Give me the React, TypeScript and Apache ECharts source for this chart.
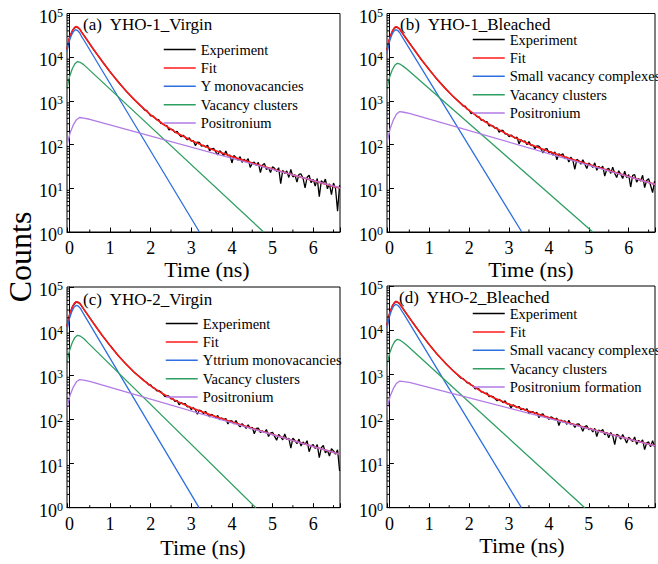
import React, { useEffect, useRef } from 'react';
import * as echarts from 'echarts';

const FONT = 'Liberation Serif';
const C_EXP = '#000000';
const C_FIT = '#ff1a1a';
const C_BLUE = '#2d6fe0';
const C_GREEN = '#2e9f60';
const C_PURPLE = '#b27ae6';

// ---------- x tick labels ----------
const X_TICKS = [0, 1, 2, 3, 4, 5, 6];

// ---------- fit curves (time grid shared) ----------
const FIT_T = [-0.06, -0.03, 0, 0.04, 0.08, 0.12, 0.16, 0.2, 0.25, 0.3, 0.4, 0.5, 0.6, 0.8, 1.0, 1.2, 1.4, 1.6, 1.8, 2.0, 2.3, 2.6, 3.0, 3.5, 4.0, 4.5, 5.0, 5.5, 6.0, 6.66];
const FIT_A = [15250, 20840, 27360, 34750, 41720, 47320, 50030, 49070, 44420, 37180, 27560, 20130, 14800, 8150, 4620, 2720, 1660, 1055, 700, 481, 296, 195, 124, 78, 53.1, 37.7, 27.5, 20.2, 15, 10.1];
const FIT_B = [14360, 19420, 25780, 33190, 40280, 46270, 49910, 48870, 44720, 38510, 28620, 21200, 15740, 8870, 5150, 3100, 1937, 1263, 857, 604, 381, 257, 165, 103.5, 69.6, 48.7, 34.9, 25.4, 18.6, 12.3];
const FIT_C = [12650, 17120, 22980, 29620, 36380, 42530, 45960, 46200, 42880, 37450, 27300, 19980, 14730, 8180, 4700, 2810, 1761, 1156, 798, 576, 380, 270, 184, 124, 87.2, 62.7, 45.6, 33.3, 24.4, 16.2];
const FIT_D = [12920, 17460, 23200, 29870, 36320, 41740, 45030, 44080, 40350, 34950, 26040, 19300, 14370, 8110, 4743, 2885, 1835, 1225, 858, 628, 423, 307, 215, 150, 108.5, 81, 61.3, 46.6, 35.5, 24.9];

// ---------- experiment (time grid shared) ----------
const EXP_T = [-0.06, 0, 0.08, 0.16, 0.25, 0.4, 0.6, 0.8, 1.0, 1.2, 1.4, 1.6,
  1.8, 1.85, 1.9, 1.95, 2, 2.05, 2.1, 2.15, 2.2, 2.25, 2.3, 2.35, 2.4, 2.45, 2.5, 2.55, 2.6, 2.65, 2.7, 2.75,
  2.8, 2.85, 2.9, 2.95, 3, 3.05, 3.1, 3.15, 3.2, 3.25, 3.3, 3.35, 3.4, 3.45, 3.5, 3.55, 3.6, 3.65, 3.7, 3.75,
  3.8, 3.85, 3.9, 3.95, 4, 4.05, 4.1, 4.15, 4.2, 4.25, 4.3, 4.35, 4.4, 4.45, 4.5, 4.55, 4.6, 4.65, 4.7, 4.75,
  4.8, 4.85, 4.9, 4.95, 5, 5.05, 5.1, 5.15, 5.2, 5.25, 5.3, 5.35, 5.4, 5.45, 5.5, 5.55, 5.6, 5.65, 5.7, 5.75,
  5.8, 5.85, 5.9, 5.95, 6, 6.05, 6.1, 6.15, 6.2, 6.25, 6.3, 6.35, 6.4, 6.45, 6.5, 6.55, 6.6, 6.65];
const EXP_A = [15100, 27500, 41500, 50300, 44200, 27700, 14700, 8190, 4600, 2740, 1650, 1062,
  706, 619, 604, 524, 454, 455, 411, 368, 370, 305,
  302, 275, 271, 216, 227, 218, 188, 202, 170, 151,
  164, 147, 128, 143, 120, 123, 95, 114, 112, 92,
  96, 88, 97, 72, 80, 82, 68.5, 58, 72, 65,
  56, 71, 55, 57.9, 38, 56.5, 50.8, 44.2, 53, 39.3,
  46.2, 41.2, 47.9, 30, 37.7, 39.8, 33.3, 39, 22.8, 33.7,
  37.2, 26.7, 29.8, 23.1, 31.3, 28.6, 24.4, 29.6, 12.8, 25.8,
  22, 25.1, 17.7, 27, 18.2, 20.4, 13.9, 20.8, 21.3, 17,
  10.2, 17.9, 19.9, 13.4, 16, 11.2, 16.8, 6.4, 14.9, 12.9,
  16.3, 9.7, 12.7, 7.2, 13.2, 9.9, 3, 11.9];
const EXP_B = [14500, 25600, 40500, 49700, 44900, 28500, 15850, 8820, 5180, 3080, 1945, 1255,
  860, 765, 758, 652, 613, 511, 535, 484, 433, 431,
  365, 366, 332, 334, 268, 274, 266, 237, 242, 191,
  210, 210, 176, 175, 152, 166, 154, 140, 148, 104,
  130, 117, 121, 99.5, 117, 95, 97.5, 80.7, 93.4, 92.4,
  80.8, 64, 78.5, 80.8, 65.1, 69.4, 57.6, 68.3, 45, 61.7,
  56.2, 62.2, 47.2, 52.4, 39.9, 51.5, 43.8, 27.3, 46.1, 42.9,
  35.4, 44.8, 36.2, 28.5, 38.1, 34.3, 30.1, 38.3, 25.8, 31.8,
  28.3, 32.2, 19.1, 27.1, 28.6, 21.9, 30.5, 21.9, 17.7, 25.2,
  21.1, 16.8, 24.6, 17.6, 20.5, 10.7, 19.8, 20.6, 13.9, 16.6,
  14.7, 19.9, 10.4, 15.1, 16.6, 11.6, 8, 14.6];
const EXP_C = [12800, 22800, 36600, 45700, 43100, 27150, 14810, 8150, 4720, 2795, 1770, 1150,
  811, 731, 695, 605, 609, 527, 505, 443, 448, 423,
  378, 328, 346, 338, 294, 291, 255, 269, 214, 241,
  223, 228, 192, 197, 167, 185, 166, 131, 164, 154,
  136, 152, 132, 115, 130, 121, 111, 123, 98.6, 108,
  99, 105, 78.8, 92.1, 93.1, 79.5, 94, 76.6, 67.7, 80.1,
  71.6, 62.5, 75.8, 61.8, 66.3, 47.3, 62.9, 63.8, 50.5, 54.8,
  50.5, 59, 41.1, 49, 51.1, 41.2, 33.9, 45.6, 40.8, 34.4,
  46.6, 35, 37.5, 22.3, 37.5, 33.3, 28.3, 35.8, 25, 30.9,
  27.1, 32.9, 18.6, 25.2, 27.1, 21.9, 26.8, 13.7, 22.8, 25.8,
  17.5, 20, 14.8, 21.6, 19.4, 16.3, 20.5, 6.8];
const EXP_D = [13050, 23050, 36500, 44800, 40550, 25900, 14450, 8080, 4760, 2870, 1842, 1218,
  829, 813, 734, 658, 655, 579, 561, 476, 494, 471,
  410, 405, 377, 384, 321, 329, 321, 286, 258, 278,
  258, 234, 257, 220, 220, 177, 210, 196, 179, 192,
  162, 173, 160, 171, 132, 145, 147, 132, 141, 107,
  126, 131, 109, 113, 98.2, 112, 106, 96.6, 105, 71,
  95.3, 86.6, 91.6, 75.9, 93.2, 74.7, 78.2, 64.4, 77, 77.2,
  67.7, 53.3, 67.6, 70.8, 57.1, 61.7, 51.1, 61.8, 40.1, 56.7,
  52, 58.3, 44.2, 49.8, 38, 49.5, 42.3, 26.4, 45.3, 42.3,
  35, 44.6, 36.4, 28.9, 38.7, 35, 31, 39.4, 26.8, 33,
  29.7, 33.8, 20.4, 28.8, 30.4, 23.6, 32.6, 23.7];

// ---------- lifetime components ----------
const BLUE_A_T = [-0.06, -0.01, 0.045, 0.1, 0.15, 0.2, 0.25, 0.3, 0.35, 3.2];
const BLUE_A = [13200, 22400, 30900, 38900, 42700, 40700, 36300, 29500, 25100, 1];
const GREEN_A_T = [-0.06, 0.005, 0.07, 0.135, 0.2, 0.27, 0.35, 0.45, 4.78];
const GREEN_A = [1950, 3670, 5430, 7080, 7940, 7590, 6760, 5550, 1];
const PURPLE_A_T = [-0.06, 0.0175, 0.095, 0.1725, 0.25, 0.35, 0.5, 6.66];
const PURPLE_A = [98, 186, 282, 372, 417, 403, 380, 10.2];

const BLUE_B_T = [-0.06, -0.005, 0.05, 0.105, 0.16, 0.21, 0.26, 0.31, 0.36, 3.32];
const BLUE_B = [12300, 21530, 30480, 38640, 42660, 40740, 36310, 30200, 25700, 1];
const GREEN_B_T = [-0.06, 0.005, 0.07, 0.135, 0.2, 0.27, 0.35, 0.45, 5.1];
const GREEN_B = [1950, 3520, 5080, 6520, 7240, 6920, 6170, 5250, 1];
const PURPLE_B_T = [-0.06, 0.02, 0.1, 0.18, 0.26, 0.36, 0.5, 6.66];
const PURPLE_B = [112, 233, 367, 500, 569, 550, 520, 12.3];

const BLUE_C_T = [-0.06, -0.0025, 0.055, 0.1125, 0.17, 0.22, 0.27, 0.32, 0.37, 3.19];
const BLUE_C = [10470, 18790, 27040, 34670, 38460, 36730, 32730, 27230, 22700, 1];
const GREEN_C_T = [-0.06, 0.005, 0.07, 0.135, 0.2, 0.27, 0.35, 0.45, 4.59];
const GREEN_C = [1995, 3740, 5520, 7210, 8050, 7690, 6820, 5500, 1];
const PURPLE_C_T = [-0.06, 0.0175, 0.095, 0.1725, 0.25, 0.35, 0.5, 6.66];
const PURPLE_C = [186, 359, 540, 711, 800, 773, 726, 16.2];

const BLUE_D_T = [-0.06, -0.005, 0.05, 0.105, 0.16, 0.21, 0.26, 0.31, 0.36, 3.31];
const BLUE_D = [11090, 19410, 27540, 34910, 38550, 36810, 32810, 27540, 23440, 1];
const GREEN_D_T = [-0.06, 0.005, 0.07, 0.135, 0.2, 0.27, 0.35, 0.45, 4.9];
const GREEN_D = [1660, 3020, 4375, 5636, 6266, 5984, 5333, 4487, 1];
const PURPLE_D_T = [-0.06, 0.02, 0.1, 0.18, 0.26, 0.36, 0.5, 6.66];
const PURPLE_D = [174, 330, 490, 643, 719, 697, 670, 24.9];

// ---------- panel texts ----------
const TITLES = ['(a)\u00a0 YHO-1_Virgin', '(b)\u00a0 YHO-1_Bleached', '(c)\u00a0 YHO-2_Virgin', '(d)\u00a0 YHO-2_Bleached'];
const LEGENDS = [
  ['Experiment', 'Fit', 'Y monovacancies', 'Vacancy clusters', 'Positronium'],
  ['Experiment', 'Fit', 'Small vacancy complexes', 'Vacancy clusters', 'Positronium'],
  ['Experiment', 'Fit', 'Yttrium monovacancies', 'Vacancy clusters', 'Positronium'],
  ['Experiment', 'Fit', 'Small vacancy complexes', 'Vacancy clusters', 'Positronium formation'],
];

const DATA = [
  { exp: EXP_A, fit: FIT_A, blue: [BLUE_A_T, BLUE_A], green: [GREEN_A_T, GREEN_A], purple: [PURPLE_A_T, PURPLE_A] },
  { exp: EXP_B, fit: FIT_B, blue: [BLUE_B_T, BLUE_B], green: [GREEN_B_T, GREEN_B], purple: [PURPLE_B_T, PURPLE_B] },
  { exp: EXP_C, fit: FIT_C, blue: [BLUE_C_T, BLUE_C], green: [GREEN_C_T, GREEN_C], purple: [PURPLE_C_T, PURPLE_C] },
  { exp: EXP_D, fit: FIT_D, blue: [BLUE_D_T, BLUE_D], green: [GREEN_D_T, GREEN_D], purple: [PURPLE_D_T, PURPLE_D] },
];

// ---------- layout (pixels) ----------
const LAYOUT = [
  { left: 67, top: 13.5, h: 218.5, lgLeft: 163, lgTop: 42, tx: 83, ty: 24, nx: 207, ny: 269 },
  { left: 387, top: 13.5, h: 218.5, lgLeft: 472, lgTop: 32, tx: 400, ty: 24, nx: 531, ny: 269 },
  { left: 67, top: 287, h: 220.7, lgLeft: 165, lgTop: 316, tx: 83, ty: 299, nx: 203, ny: 547 },
  { left: 387, top: 286, h: 221.7, lgLeft: 472, lgTop: 306, tx: 399, ty: 297, nx: 522, ny: 545 },
];

const X_MIN = -0.06;
const X_MAX = 6.66;

const pairs = (t: number[], v: number[]) => t.map((x, i) => [x, v[i]]);

function minorTickData() {
  const out: number[][] = [];
  for (let k = 0; k < 5; k++) {
    for (let m = 2; m <= 9; m++) out.push([X_MIN, m * Math.pow(10, k), 1]);
  }
  for (let t = 0.5; t < 6.6; t += 1) out.push([t, 1, 0]);
  return out;
}

function buildOption() {
  const grid: any[] = [];
  const xAxis: any[] = [];
  const yAxis: any[] = [];
  const series: any[] = [];
  const legend: any[] = [];
  const graphic: any[] = [];
  const minor = minorTickData();

  LAYOUT.forEach((L, i) => {
    const D = DATA[i];
    const names = LEGENDS[i];
    grid.push({ left: L.left, top: L.top, width: 273, height: L.h, show: true, borderColor: '#000', borderWidth: 1, backgroundColor: 'transparent' });
    xAxis.push({
      gridIndex: i, type: 'value', min: X_MIN, max: X_MAX, splitNumber: 7,
      axisLine: { show: true, onZero: false, lineStyle: { color: '#000', width: 1 } },
      axisTick: { show: true, inside: true, length: 4.5, lineStyle: { color: '#000', width: 1 } },
      axisLabel: {
        color: '#000', fontSize: 18, fontFamily: FONT, margin: 7,
        formatter: (v: number) => {
          const r = Math.round(v);
          return Math.abs(v - r) < 1e-6 && X_TICKS.indexOf(r) >= 0 ? String(r) : '';
        },
      },
      splitLine: { show: false },
    });
    yAxis.push({
      gridIndex: i, type: 'log', logBase: 10, min: 1, max: 100000,
      axisLine: { show: true, lineStyle: { color: '#000', width: 1 } },
      axisTick: { show: true, inside: true, length: 4.5, lineStyle: { color: '#000', width: 1 } },
      axisLabel: {
        margin: 4, fontFamily: FONT,
        formatter: (v: number) => `{b|10}{s|${Math.round(Math.log10(v))}}`,
        rich: {
          b: { fontSize: 18, fontFamily: FONT, color: '#000', lineHeight: 18, padding: [6, 0, 0, 0] },
          s: { fontSize: 12, fontFamily: FONT, color: '#000', lineHeight: 12, padding: [2, 0, 0, 0], verticalAlign: 'top' },
        },
      },
      splitLine: { show: false },
    });
    const common = { xAxisIndex: i, yAxisIndex: i, type: 'line', symbol: 'none', silent: true, smooth: false };
    series.push({ ...common, name: names[0], data: pairs(EXP_T, D.exp), lineStyle: { color: C_EXP, width: 1.3 }, itemStyle: { color: C_EXP } });
    series.push({ ...common, name: names[1], data: pairs(FIT_T, D.fit), lineStyle: { color: C_FIT, width: 1.6 }, itemStyle: { color: C_FIT } });
    series.push({ ...common, name: names[2], data: pairs(D.blue[0], D.blue[1]), lineStyle: { color: C_BLUE, width: 1.3 }, itemStyle: { color: C_BLUE } });
    series.push({ ...common, name: names[3], data: pairs(D.green[0], D.green[1]), lineStyle: { color: C_GREEN, width: 1.3 }, itemStyle: { color: C_GREEN } });
    series.push({ ...common, name: names[4], data: pairs(D.purple[0], D.purple[1]), lineStyle: { color: C_PURPLE, width: 1.3 }, itemStyle: { color: C_PURPLE } });
    series.push({
      type: 'custom', name: 'minor' + i, xAxisIndex: i, yAxisIndex: i, silent: true, clip: false, z: 5,
      data: minor,
      renderItem: (params: any, api: any) => {
        const p = api.coord([api.value(0), api.value(1)]);
        const k = api.value(2);
        return {
          type: 'line',
          shape: k === 1 ? { x1: p[0], y1: p[1], x2: p[0] + 2.5, y2: p[1] } : { x1: p[0], y1: p[1], x2: p[0], y2: p[1] - 2.5 },
          style: { stroke: '#000', lineWidth: 1 },
        };
      },
    });
    legend.push({
      data: names, orient: 'vertical', left: L.lgLeft, top: L.lgTop, padding: 0,
      itemWidth: 32, itemHeight: 10, itemGap: 3.4, selectedMode: false,
      itemStyle: { opacity: 0, color: 'transparent', borderWidth: 0 },
      lineStyle: { width: 1.5 },
      textStyle: { fontSize: 14.5, fontFamily: FONT, color: '#000' },
    });
    graphic.push({ type: 'text', x: L.tx, y: L.ty, silent: true, style: { text: TITLES[i], fontSize: 17, fontFamily: FONT, fill: '#000', align: 'left', verticalAlign: 'middle' } });
    graphic.push({ type: 'text', x: L.nx, y: L.ny, silent: true, style: { text: 'Time (ns)', fontSize: 22, fontFamily: FONT, fill: '#000', align: 'center', verticalAlign: 'middle' } });
  });
  graphic.push({ type: 'text', x: 20, y: 257, rotation: Math.PI / 2, silent: true, style: { text: 'Counts', fontSize: 32, fontFamily: FONT, fill: '#000', align: 'center', verticalAlign: 'middle' } });

  return {
    animation: false,
    backgroundColor: '#ffffff',
    textStyle: { fontFamily: FONT },
    grid, xAxis, yAxis, series, legend, graphic,
  };
}

export default function App() {
  const ref = useRef<HTMLDivElement>(null);
  useEffect(() => {
    if (!ref.current) return;
    const chart = echarts.init(ref.current, undefined, { renderer: 'svg' });
    chart.setOption(buildOption() as any);
    return () => chart.dispose();
  }, []);
  return <div ref={ref} style={{ position: 'absolute', left: 0, top: 0, width: 658, height: 564 }} />;
}
